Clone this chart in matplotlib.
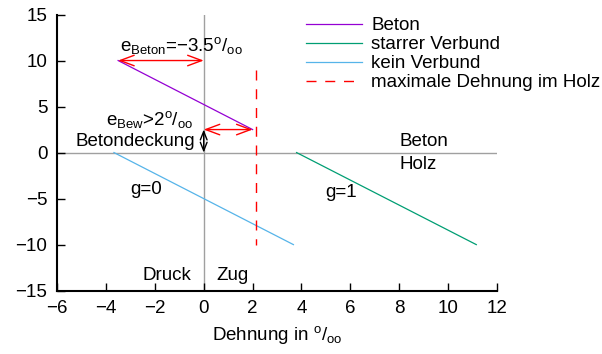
import matplotlib
matplotlib.use("Agg")
import matplotlib.pyplot as plt

plt.rcParams['font.family'] = ['Liberation Sans', 'DejaVu Sans']
plt.rcParams['mathtext.fontset'] = 'custom'
plt.rcParams['mathtext.rm'] = 'Liberation Sans'
plt.rcParams['mathtext.it'] = 'Liberation Sans'
plt.rcParams['font.size'] = 13.5

# Data
beton_x = [-3.5, 2.0]
beton_y = [10, 2.5]
starr_x = [3.8, 11.15]
starr_y = [0, -10]
kein_x = [-3.67, 3.67]
kein_y = [0, -10]
dehn_x = [2.15, 2.15]
dehn_y = [9, -10]
labels = ["Beton", "starrer Verbund", "kein Verbund", "maximale Dehnung im Holz"]
xticks = [-6, -4, -2, 0, 2, 4, 6, 8, 10, 12]
yticks = [-15, -10, -5, 0, 5, 10, 15]

fig = plt.figure(figsize=(6.02, 3.54), dpi=100)
ax = fig.add_axes([0.0947, 0.179, 0.731, 0.780])

ax.axhline(0, color='#a0a0a0', lw=1, zorder=1)
ax.axvline(0, color='#a0a0a0', lw=1, zorder=1)

l1, = ax.plot(beton_x, beton_y, color='#9400d3', lw=0.9, label=labels[0])
l2, = ax.plot(starr_x, starr_y, color='#009e73', lw=0.9, label=labels[1])
l3, = ax.plot(kein_x, kein_y, color='#56b4e9', lw=0.9, label=labels[2])
l4, = ax.plot(dehn_x, dehn_y, color='#ff0000', lw=1, linestyle=(0, (7.2, 6.3)), label=labels[3])

arr = dict(arrowstyle='<->,head_length=0.75,head_width=0.28', color='red', lw=1, shrinkA=0, shrinkB=0)
ax.annotate("", xy=(-3.5, 10), xytext=(0, 10), arrowprops=arr)
ax.annotate("", xy=(0, 2.5), xytext=(2.0, 2.5), arrowprops=arr)
arrb = dict(arrowstyle='<->,head_length=0.45,head_width=0.18', color='black', lw=1, shrinkA=0, shrinkB=0)
ax.annotate("", xy=(0, 0), xytext=(0, 2.5), arrowprops=arrb)

ax.text(-0.9, 11.6, r"e$_{\mathrm{Beton}}$=−3.5$^{\mathrm{o}}$/$_{\mathrm{oo}}$", ha='center', va='center')
ax.text(-2.2, 3.6, r"e$_{\mathrm{Bew}}$>2$^{\mathrm{o}}$/$_{\mathrm{oo}}$", ha='center', va='center')
ax.text(-0.35, 1.2, "Betondeckung", ha='right', va='center')
ax.text(8.0, 1.2, "Beton", ha='left', va='center')
ax.text(8.0, -1.3, "Holz", ha='left', va='center')
ax.text(-3.0, -4.0, "g=0", ha='left', va='center')
ax.text(4.96, -4.3, "g=1", ha='left', va='center')
ax.text(-0.5, -13.4, "Druck", ha='right', va='center')
ax.text(0.5, -13.4, "Zug", ha='left', va='center')

ax.set_xlim(-6, 12)
ax.set_ylim(-15, 15)
ax.set_xticks(xticks)
ax.set_yticks(yticks)
ax.set_xticklabels([str(t).replace('-', '−') for t in xticks])
ax.set_yticklabels([str(t).replace('-', '−') for t in yticks])
ax.tick_params(direction='in', length=6, width=1, pad=7)
ax.spines['top'].set_visible(False)
ax.spines['right'].set_visible(False)
ax.spines['left'].set_linewidth(1.5)
ax.spines['bottom'].set_linewidth(1.5)
ax.set_xlabel(r"Dehnung in $^{\mathrm{o}}$/$_{\mathrm{oo}}$", labelpad=5)

leg = fig.legend(handles=[l1, l2, l3, l4], loc='upper left', bbox_to_anchor=(0.486, 0.988),
                 frameon=False, handlelength=3.0, handletextpad=0.5, labelspacing=0.1,
                 borderaxespad=0.3)

fig.savefig("out.png", dpi=100)
